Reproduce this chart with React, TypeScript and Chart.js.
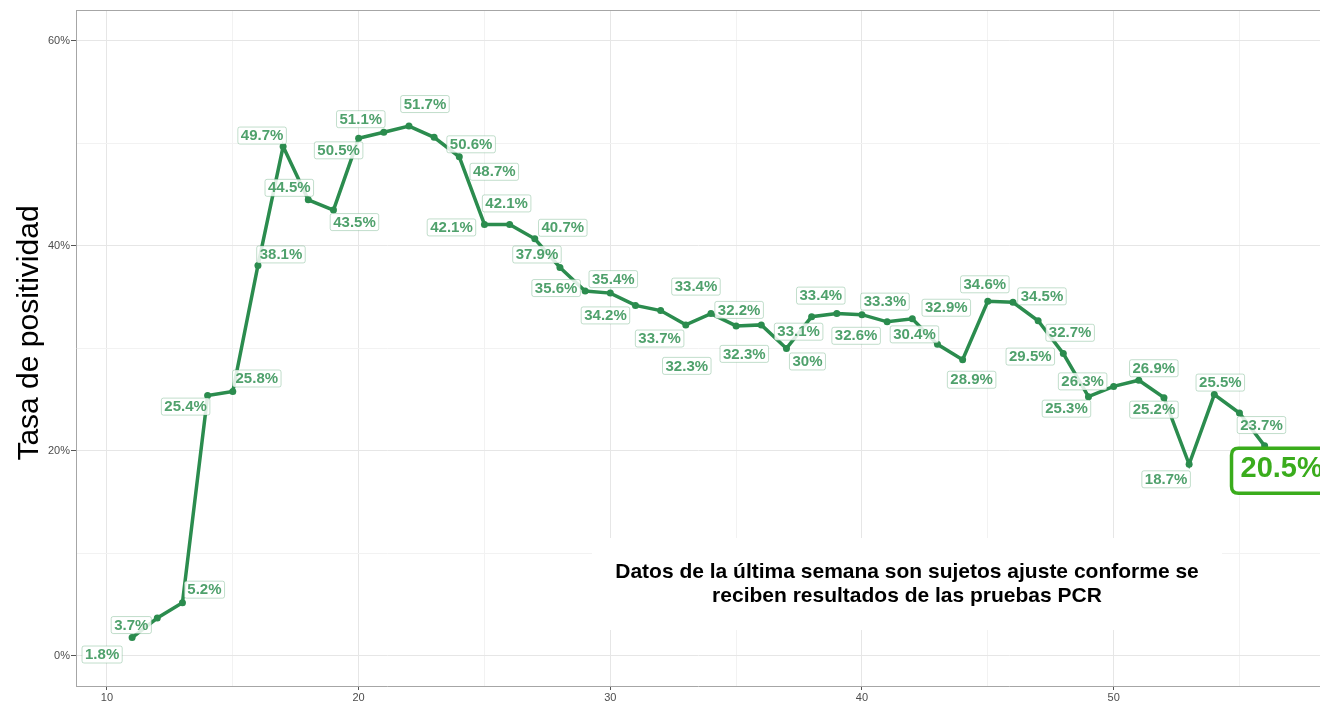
import React, { useEffect, useRef } from 'react';
import { Chart, registerables } from 'chart.js';

Chart.register(...registerables);

const weeks = [
  11, 12, 13, 14, 15, 16, 17, 18, 19, 20,
  21, 22, 23, 24, 25, 26, 27, 28, 29, 30,
  31, 32, 33, 34, 35, 36, 37, 38, 39, 40,
  41, 42, 43, 44, 45, 46, 47, 48, 49, 50,
  51, 52, 53, 54, 55, 56,
];

const positivity = [
  1.8, 3.7, 5.2, 25.4, 25.8, 38.1, 49.7, 44.5, 43.5, 50.5,
  51.1, 51.7, 50.6, 48.7, 42.1, 42.1, 40.7, 37.9, 35.6, 35.4,
  34.2, 33.7, 32.3, 33.4, 32.2, 32.3, 30, 33.1, 33.4, 33.3,
  32.6, 32.9, 30.4, 28.9, 34.6, 34.5, 32.7, 29.5, 25.3, 26.3,
  26.9, 25.2, 18.7, 25.5, 23.7, 20.5,
];

// label offsets (pixels) from each point, as placed in the reference
const labelOffsets: [number, number][] = [
  [-30, 17], [-26, 7], [22, -13], [-22, 11], [24, -13], [23, -11], [-21, -11], [-19, -12], [21, 12], [-20, 12],
  [-23, -13], [16, -22], [37, 7], [35, 15], [-33, 3], [-3, -21], [28, -11], [-23, -13], [-29, -3], [3, -14],
  [-30, 10], [-1, 28], [1, 41], [-15, -27], [3, -16], [-17, 29], [21, 13], [-13, 15], [-16, -18], [23, -13],
  [-31, 14], [34, -11], [-23, -10], [9, 20], [-3, -17], [29, -6], [32, 12], [-33, 3], [-22, 12], [-31, -5],
  [15, -12], [-10, 12], [-23, 15], [6, -12], [22, 12], [17, 25],
];

const xTickLabels = [10, 20, 30, 40, 50];
const yTickLabels = [0, 20, 40, 60];

const yTitle = 'Tasa de positividad';
const noteLines = [
  'Datos de la última semana son sujetos ajuste conforme se',
  'reciben resultados de las pruebas PCR',
];

const FONT = '"Liberation Sans", Arial, Helvetica, sans-serif';
const LINE_COLOR = '#2b8c4e';
const LABEL_COLOR = '#4fa16c';
const HIGHLIGHT = '#3aac1c';

function roundRect(ctx: CanvasRenderingContext2D, x: number, y: number, w: number, h: number, r: number) {
  ctx.beginPath();
  ctx.moveTo(x + r, y);
  ctx.lineTo(x + w - r, y);
  ctx.quadraticCurveTo(x + w, y, x + w, y + r);
  ctx.lineTo(x + w, y + h - r);
  ctx.quadraticCurveTo(x + w, y + h, x + w - r, y + h);
  ctx.lineTo(x + r, y + h);
  ctx.quadraticCurveTo(x, y + h, x, y + h - r);
  ctx.lineTo(x, y + r);
  ctx.quadraticCurveTo(x, y, x + r, y);
  ctx.closePath();
}

const decorPlugin = {
  id: 'decor',
  beforeDatasetsDraw(chart: any) {
    const ctx = chart.ctx as CanvasRenderingContext2D;
    const { chartArea } = chart;
    ctx.save();
    // panel border (top)
    ctx.strokeStyle = '#a6a6a6';
    ctx.lineWidth = 1;
    ctx.beginPath();
    ctx.moveTo(chartArea.left, chartArea.top + 0.5);
    ctx.lineTo(chartArea.right, chartArea.top + 0.5);
    ctx.stroke();
    // note box
    ctx.fillStyle = '#ffffff';
    ctx.fillRect(592, 538, 630, 92);
    ctx.fillStyle = '#000000';
    ctx.font = `bold 21px ${FONT}`;
    ctx.textAlign = 'center';
    ctx.textBaseline = 'middle';
    ctx.fillText(noteLines[0], 907, 572);
    ctx.fillText(noteLines[1], 907, 596);
    // y title
    ctx.translate(30, 333);
    ctx.rotate(-Math.PI / 2);
    ctx.font = `30px ${FONT}`;
    ctx.fillText(yTitle, 0, 0);
    ctx.restore();
  },
  afterDatasetsDraw(chart: any) {
    const ctx = chart.ctx as CanvasRenderingContext2D;
    const meta = chart.getDatasetMeta(0);
    const last = meta.data.length - 1;
    ctx.save();
    ctx.textAlign = 'center';
    ctx.textBaseline = 'middle';
    meta.data.forEach((pt: any, i: number) => {
      const text = `${positivity[i]}%`;
      const [dx, dy] = labelOffsets[i];
      const cx = pt.x + dx;
      const cy = pt.y + dy;
      if (i === last) {
        ctx.font = `bold 29px ${FONT}`;
        const w = ctx.measureText(text).width + 18;
        const h = 45;
        ctx.fillStyle = 'rgba(255,255,255,0.95)';
        roundRect(ctx, cx - w / 2, cy - h / 2, w, h, 7);
        ctx.fill();
        ctx.lineWidth = 3.5;
        ctx.strokeStyle = HIGHLIGHT;
        ctx.stroke();
        ctx.fillStyle = HIGHLIGHT;
        ctx.fillText(text, cx, cy - 2);
      } else {
        ctx.font = `bold 15px ${FONT}`;
        const w = ctx.measureText(text).width + 6;
        const h = 17;
        ctx.fillStyle = 'rgba(255,255,255,0.85)';
        roundRect(ctx, cx - w / 2, cy - h / 2, w, h, 2);
        ctx.fill();
        ctx.lineWidth = 1;
        ctx.strokeStyle = 'rgba(79,161,108,0.35)';
        ctx.stroke();
        ctx.fillStyle = LABEL_COLOR;
        ctx.fillText(text, cx, cy + 0.5);
      }
    });
    ctx.restore();
  },
};

export default function App() {
  const ref = useRef<HTMLCanvasElement>(null);

  useEffect(() => {
    if (!ref.current) return;
    const chart = new Chart(ref.current, {
      type: 'line',
      data: {
        datasets: [
          {
            data: weeks.map((w, i) => ({ x: w, y: positivity[i] })),
            borderColor: LINE_COLOR,
            backgroundColor: LINE_COLOR,
            borderWidth: 3.5,
            pointRadius: 3.5,
            pointBackgroundColor: LINE_COLOR,
            pointBorderWidth: 0,
            tension: 0,
          },
        ],
      },
      options: {
        animation: false,
        responsive: true,
        maintainAspectRatio: false,
        layout: { autoPadding: false, padding: { top: 10, left: 0, right: 0, bottom: 0 } },
        plugins: {
          legend: { display: false },
          tooltip: { enabled: false },
        },
        scales: {
          x: {
            type: 'linear',
            min: 8.77,
            max: 58.2,
            afterFit: (s: any) => { s.height = 16; },
            ticks: {
              stepSize: 5,
              includeBounds: false,
              autoSkip: false,
              maxRotation: 0,
              padding: 1,
              color: '#4d4d4d',
              font: { size: 11, family: FONT },
              callback: (v: any) => (xTickLabels.includes(Number(v)) ? String(v) : ''),
            },
            grid: {
              color: (c: any) => (xTickLabels.includes(c.tick?.value) ? '#e6e6e6' : '#f2f2f2'),
              tickColor: (c: any) => (xTickLabels.includes(c.tick?.value) ? '#555555' : 'rgba(0,0,0,0)'),
              tickLength: 4,
              lineWidth: 1,
            },
            border: { color: '#a6a6a6', width: 1 },
          },
          y: {
            type: 'linear',
            min: -2.93,
            max: 63.02,
            afterFit: (s: any) => { s.width = 76; },
            ticks: {
              stepSize: 10,
              includeBounds: false,
              autoSkip: false,
              padding: 1,
              color: '#4d4d4d',
              font: { size: 11, family: FONT },
              callback: (v: any) => (yTickLabels.includes(Number(v)) ? `${v}%` : ''),
            },
            grid: {
              color: (c: any) => (yTickLabels.includes(c.tick?.value) ? '#e6e6e6' : '#f2f2f2'),
              tickColor: (c: any) => (yTickLabels.includes(c.tick?.value) ? '#555555' : 'rgba(0,0,0,0)'),
              tickLength: 5,
              lineWidth: 1,
            },
            border: { color: '#a6a6a6', width: 1 },
          },
        },
      },
      plugins: [decorPlugin],
    });
    return () => chart.destroy();
  }, []);

  return (
    <div style={{ position: 'fixed', left: 0, top: 0, width: 1320, height: 702, background: '#ffffff' }}>
      <canvas ref={ref} />
    </div>
  );
}
